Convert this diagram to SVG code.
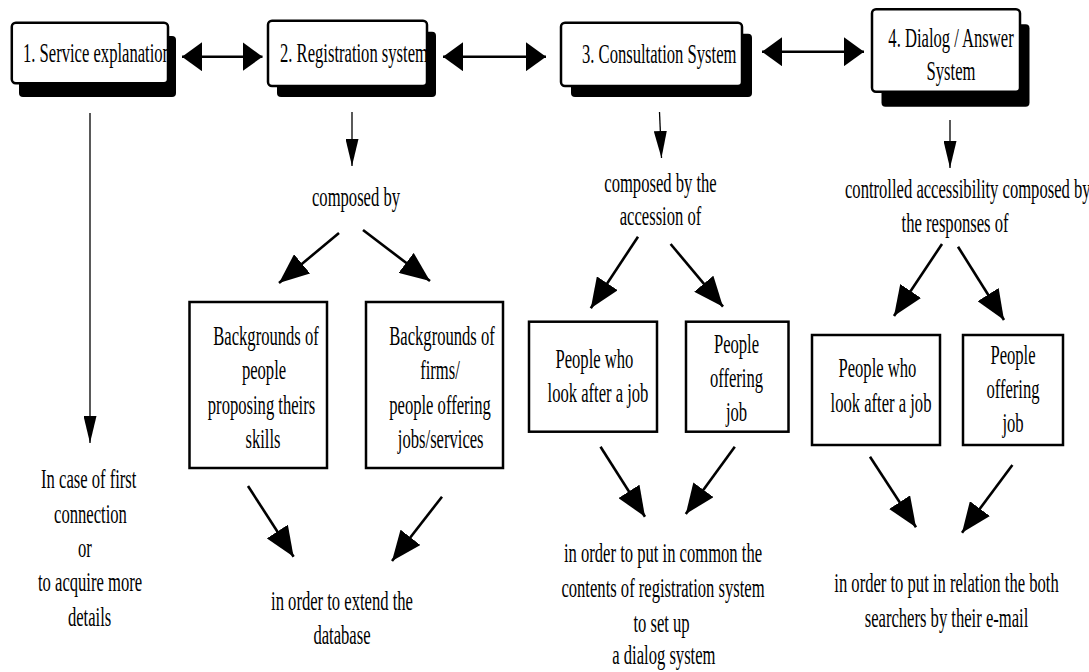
<svg xmlns="http://www.w3.org/2000/svg" width="1089" height="672" viewBox="0 0 1089 672" font-family="Liberation Serif, Times New Roman, serif">
<style>
text{font-family:'Liberation Serif','Times New Roman',serif;font-size:28px;fill:#000}
.tb{fill:#fff;stroke:#000;stroke-width:2.5}
.sh{fill:#000}
.bx{fill:#fff;stroke:#000;stroke-width:2.5}
.dbl{stroke:#000;stroke-width:2.5;fill:none;marker-start:url(#hd);marker-end:url(#hd)}
.thin{stroke:#000;stroke-width:1.3;fill:none;marker-end:url(#hn)}
.dg{stroke:#000;stroke-width:2.6;fill:none;marker-end:url(#hb)}
</style>
<defs>
<marker id="hd" viewBox="0 0 20 29" refX="20" refY="14.5" markerWidth="20" markerHeight="29" markerUnits="userSpaceOnUse" orient="auto-start-reverse"><path d="M0,0 L20,14.5 L0,29 z" fill="#000"/></marker>
<marker id="hn" viewBox="0 0 27 13" refX="27" refY="6.5" markerWidth="27" markerHeight="13" markerUnits="userSpaceOnUse" orient="auto"><path d="M0,0 L27,6.5 L0,13 z" fill="#000"/></marker>
<marker id="hb" viewBox="0 0 30 25" refX="30" refY="12.5" markerWidth="30" markerHeight="25" markerUnits="userSpaceOnUse" orient="auto"><path d="M0,0 L30,12.5 L0,25 z" fill="#000"/></marker>
<clipPath id="c1"><rect x="12" y="23" width="155" height="60"/></clipPath>
<clipPath id="c2"><rect x="269" y="21" width="157" height="64"/></clipPath>
</defs>

<g id="connectors">
<line class="dbl" x1="182" y1="56.7" x2="262.5" y2="56.7"/>
<line class="dbl" x1="443" y1="56.7" x2="546" y2="56.7"/>
<line class="dbl" x1="762" y1="51.7" x2="864" y2="51.7"/>
<line class="thin" x1="90" y1="113" x2="90" y2="443"/>
<line class="thin" x1="352" y1="112" x2="352" y2="166"/>
<line class="thin" x1="659.5" y1="112" x2="661.5" y2="158"/>
<line class="thin" x1="950" y1="120" x2="950" y2="168"/>
<line class="dg" x1="339" y1="233" x2="279" y2="283"/>
<line class="dg" x1="363" y1="230" x2="430" y2="281"/>
<line class="dg" x1="638" y1="236.7" x2="590.8" y2="308.3"/>
<line class="dg" x1="670.6" y1="244" x2="723" y2="306.7"/>
<line class="dg" x1="942" y1="244" x2="894" y2="316"/>
<line class="dg" x1="958" y1="246.7" x2="1004" y2="320"/>
<line class="dg" x1="248" y1="486" x2="293.6" y2="556.7"/>
<line class="dg" x1="442" y1="496.7" x2="392" y2="561"/>
<line class="dg" x1="600.5" y1="446.7" x2="645" y2="516.7"/>
<line class="dg" x1="734.8" y1="446.7" x2="685.8" y2="514"/>
<line class="dg" x1="870" y1="456.7" x2="916" y2="527.3"/>
<line class="dg" x1="1012.4" y1="465" x2="962" y2="532.7"/>
</g>

<g id="n1">
<rect class="sh" x="19" y="36" width="157" height="61" rx="4"/>
<rect class="tb" x="11.8" y="22.7" width="156.2" height="60.6" rx="4"/>
<g clip-path="url(#c1)"><text transform="translate(23,0) scale(0.593,1)" x="0" y="61.7">1. Service explanation</text></g>
</g>
<g id="n2">
<rect class="sh" x="277" y="31.7" width="159" height="65.3" rx="4"/>
<rect class="tb" x="268" y="20.7" width="159" height="65.3" rx="4"/>
<g clip-path="url(#c2)"><text transform="translate(280,0) scale(0.593,1)" x="0" y="61.7">2. Registration system</text></g>
</g>
<g id="n3">
<rect class="sh" x="571" y="33.7" width="181" height="63.3" rx="4"/>
<rect class="tb" x="561" y="22.7" width="181" height="63.3" rx="4"/>
<text transform="translate(582,0) scale(0.593,1)" x="0" y="63.3">3. Consultation System</text>
</g>
<g id="n4">
<rect class="sh" x="881.5" y="24.3" width="148" height="82.4" rx="4"/>
<rect class="tb" x="872" y="9.3" width="148" height="82.4" rx="4"/>
<text transform="translate(951,0) scale(0.593,1)" text-anchor="middle"><tspan x="0" y="46.7">4. Dialog / Answer</tspan><tspan x="0" y="80">System</tspan></text>
</g>

<g id="t1">
<text transform="scale(0.593,1)" text-anchor="middle"><tspan x="149.7" y="488.3">In case of first</tspan><tspan x="152.6" y="522.7">connection</tspan><tspan x="143.3" y="557">or</tspan><tspan x="151.8" y="591.5">to acquire more</tspan><tspan x="151.1" y="626">details</tspan></text>
</g>

<g id="t2">
<text transform="translate(356,0) scale(0.593,1)" text-anchor="middle" x="0" y="206">composed by</text>
</g>
<g id="nA">
<rect class="bx" x="189.5" y="302" width="137.5" height="166"/>
<text transform="scale(0.593,1)" text-anchor="middle"><tspan x="448.6" y="345">Backgrounds of</tspan><tspan x="445.2" y="379.5">people</tspan><tspan x="441" y="414">proposing theirs</tspan><tspan x="443.5" y="448.5">skills</tspan></text>
</g>
<g id="nB">
<rect class="bx" x="366" y="302" width="137" height="166"/>
<text transform="scale(0.593,1)" text-anchor="middle"><tspan x="745.4" y="345">Backgrounds of</tspan><tspan x="742" y="379.5">firms/</tspan><tspan x="742" y="414">people offering</tspan><tspan x="743.2" y="448.5">jobs/services</tspan></text>
</g>
<g id="t2b">
<text transform="translate(342,0) scale(0.593,1)" text-anchor="middle"><tspan x="0" y="610">in order to extend the</tspan><tspan x="0" y="644">database</tspan></text>
</g>

<g id="t3">
<text transform="translate(660.5,0) scale(0.593,1)" text-anchor="middle"><tspan x="0" y="191.7">composed by the</tspan><tspan x="0" y="225">accession of</tspan></text>
</g>
<g id="nC1">
<rect class="bx" x="529" y="321.7" width="128" height="110"/>
<text transform="scale(0.593,1)" text-anchor="middle"><tspan x="1002.4" y="368.3">People who</tspan><tspan x="1008.4" y="401.7">look after a job</tspan></text>
</g>
<g id="nC2">
<rect class="bx" x="686" y="321.7" width="102.5" height="110"/>
<text transform="translate(736.5,0) scale(0.593,1)" text-anchor="middle"><tspan x="0" y="353">People</tspan><tspan x="0" y="387.5">offering</tspan><tspan x="0" y="421">job</tspan></text>
</g>
<g id="t3b">
<text transform="translate(663,0) scale(0.593,1)" text-anchor="middle"><tspan x="0" y="561.7">in order to put in common the</tspan><tspan x="0" y="596.7">contents of registration system</tspan><tspan x="-2.5" y="631.7">to set up</tspan><tspan x="1.5" y="664">a dialog system</tspan></text>
</g>

<g id="t4">
<text transform="scale(0.593,1)" text-anchor="middle"><tspan x="1632" y="198.3">controlled accessibility composed by</tspan><tspan x="1610.5" y="231.7">the responses of</tspan></text>
</g>
<g id="nD1">
<rect class="bx" x="812" y="335" width="128" height="110"/>
<text transform="scale(0.593,1)" text-anchor="middle"><tspan x="1479.6" y="377.3">People who</tspan><tspan x="1485.7" y="411.7">look after a job</tspan></text>
</g>
<g id="nD2">
<rect class="bx" x="963" y="335" width="100" height="110"/>
<text transform="translate(1013,0) scale(0.593,1)" text-anchor="middle"><tspan x="0" y="364">People</tspan><tspan x="0" y="398">offering</tspan><tspan x="0" y="432">job</tspan></text>
</g>
<g id="t4b">
<text transform="translate(946.5,0) scale(0.593,1)" text-anchor="middle"><tspan x="0" y="591.7">in order to put in relation the both</tspan><tspan x="0" y="626.7">searchers by their e-mail</tspan></text>
</g>
</svg>
